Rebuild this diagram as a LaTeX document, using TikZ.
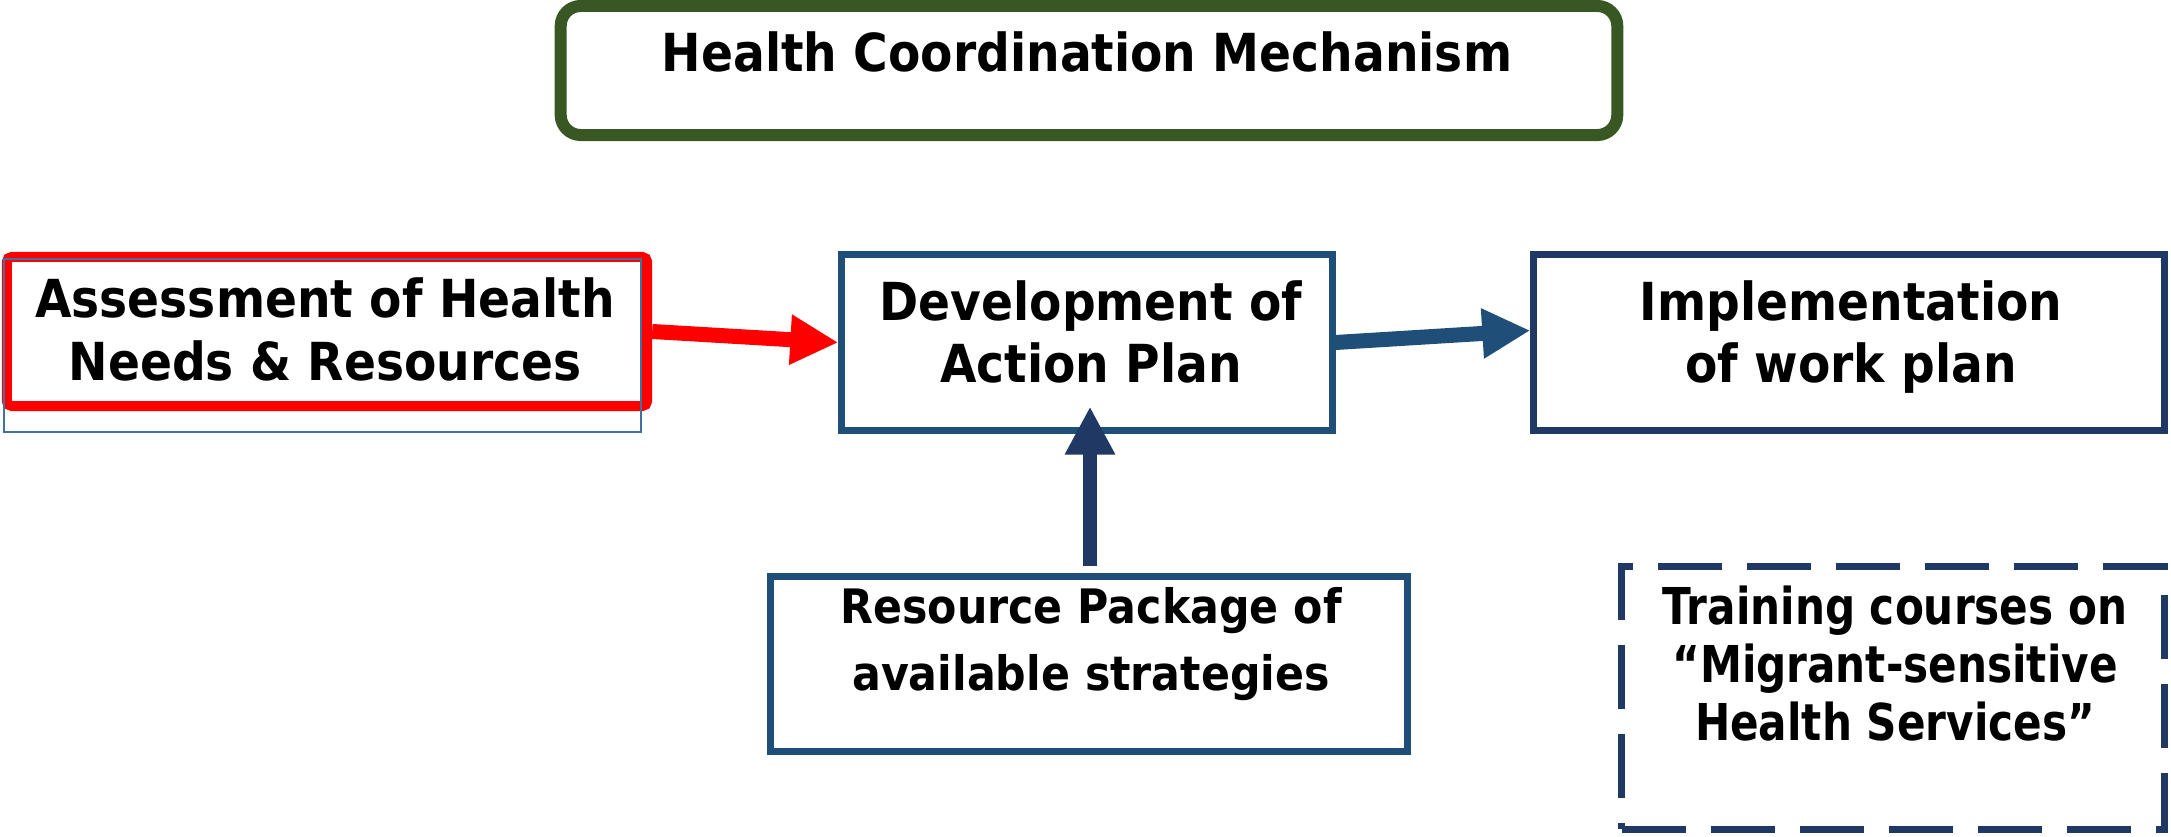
\documentclass[tikz,border=0pt]{standalone}
\usepackage{fontspec}
\usetikzlibrary{arrows.meta,calc}
\newfontfamily\fmain{DejaVu Sans}[FakeStretch=0.9]
\newfontfamily\fres{DejaVu Sans}[FakeStretch=0.9]
\newfontfamily\ftrn{DejaVu Sans}[FakeStretch=0.83]
\definecolor{hgreen}{HTML}{385723}
\definecolor{dblue}{HTML}{1F4E79}
\definecolor{navy}{HTML}{203864}
\definecolor{thinblue}{HTML}{41719C}
\definecolor{ared}{HTML}{FF0000}
\tikzset{
  box/.style={draw, fill=white, rectangle, inner sep=0pt},
  txtmain/.style={inner sep=0pt, align=center, font=\fmain\bfseries\fontsize{14.9}{17.9}\selectfont},
  txtres/.style={inner sep=0pt, align=center, font=\fres\bfseries\fontsize{13.5}{18.8}\selectfont},
  txttrn/.style={inner sep=0pt, align=center, font=\ftrn\bfseries\fontsize{14.45}{16.4}\selectfont},
  arr/.style={line width=0.15cm, -{Triangle[length=0.48cm,width=0.47cm]}},
}
\begin{document}
\begin{tikzpicture}[x=0.01cm,y=-0.01cm]
\useasboundingbox (0,0) rectangle (2171,837);
% boxes
\node[box, draw=hgreen, line width=0.12cm, rounded corners=0.2cm,
      minimum width=10.56cm, minimum height=1.29cm] (hcm) at (1089,70.5) {};
\node[box, draw=ared, line width=0.10cm, rounded corners=0.05cm,
      minimum width=6.40cm, minimum height=1.49cm] (ass) at (327,331.5) {};
\node[draw=thinblue, line width=0.015cm, rectangle, inner sep=0pt,
      minimum width=6.37cm, minimum height=1.73cm] (assframe) at (322.5,345.5) {};
\node[box, draw=dblue, line width=0.07cm,
      minimum width=4.90cm, minimum height=1.75cm] (dev) at (1087,342.5) {};
\node[box, draw=navy, line width=0.07cm,
      minimum width=6.30cm, minimum height=1.75cm] (imp) at (1849,342.5) {};
\node[box, draw=dblue, line width=0.07cm,
      minimum width=6.36cm, minimum height=1.74cm] (res) at (1089,664) {};
\node[box, draw=navy, line width=0.07cm, dash pattern=on 0.64cm off 0.25cm,
      minimum width=5.42cm, minimum height=2.62cm] (trn) at (1893,698) {};
% texts
\node[txtmain] (hcmT) at (1087,59.4) {\strut Health Coordination Mechanism};
\node[txtmain] (assT) at (325,336.4) {\strut Assessment of Health\\\strut Needs \& Resources};
\node[txtmain] (devT) at (1091,338.9) {\strut Development of\\\strut Action Plan};
\node[txtmain] (impT) at (1851,338.9) {\strut Implementation\\\strut of work plan};
\node[txtres] (resT) at (1091,643.8) {\strut Resource Package of\\\strut available strategies};
\node[txttrn] (trnT) at (1895,671) {\strut Training courses on\\\strut “Migrant-sensitive\\\strut Health Services”};
% connectors
\draw[arr, ared] (ass.east) -- (dev.west);
\draw[arr, dblue] (dev.east) -- ($(imp.west)+(0,-12)$);
\draw[arr, navy, line width=0.14cm] ($(res.north)+(1,-7)$) -- ($(dev.south)+(3,-27)$);
\end{tikzpicture}
\end{document}
